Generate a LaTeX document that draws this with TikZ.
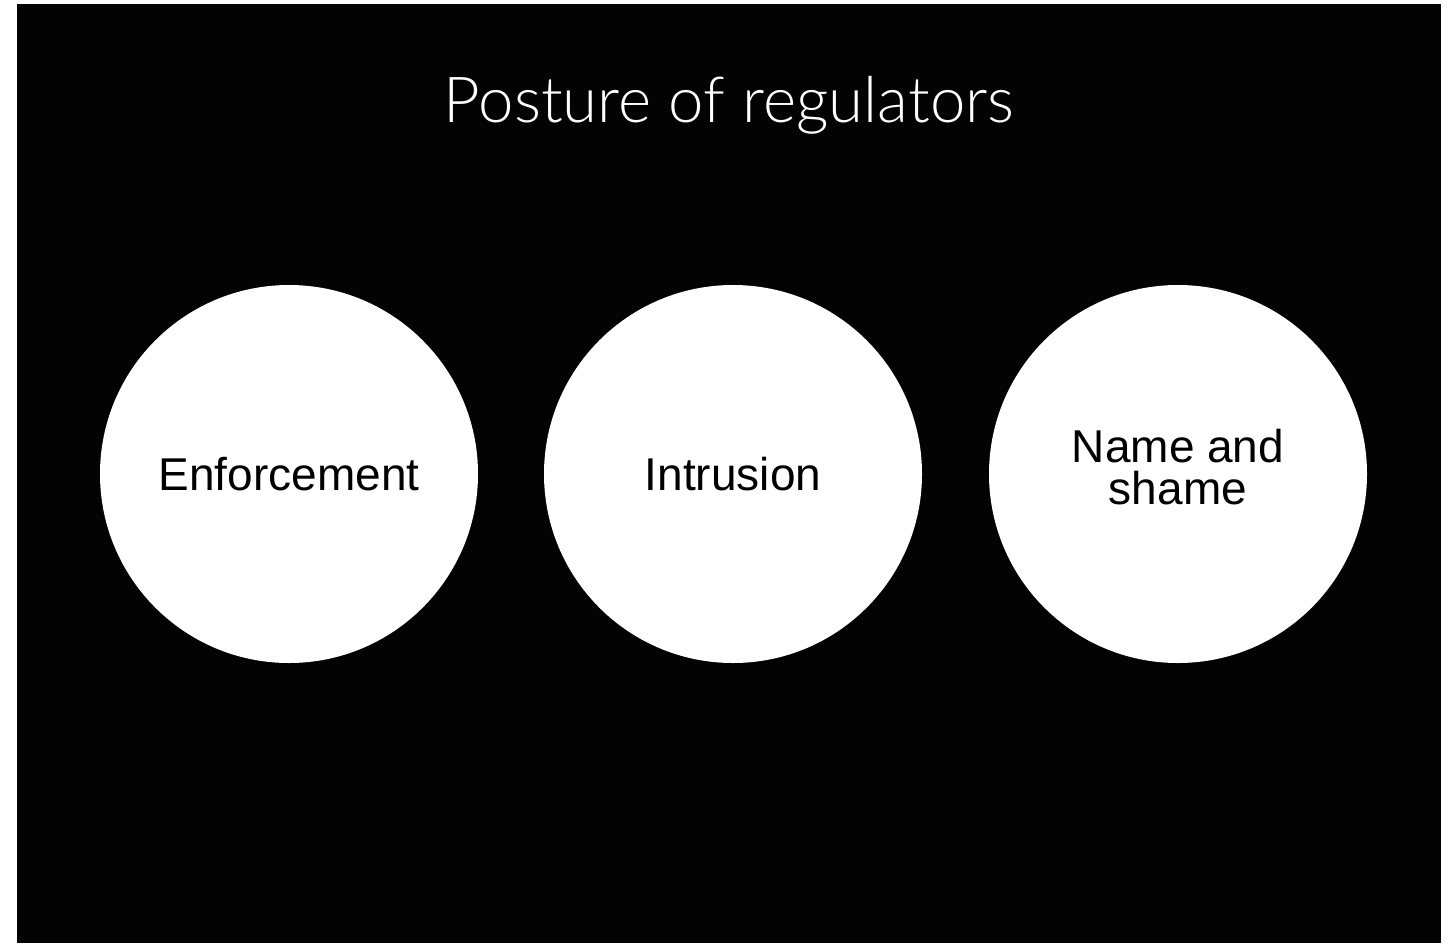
\documentclass[tikz,border=0pt]{standalone}
\usepackage{fontspec}
\setmainfont{Liberation Sans}
\newfontfamily\titlefont{Lato Light}

\begin{document}
\begin{tikzpicture}[x=1pt, y=-1pt,
        posture/.style={draw=none, circle, fill=white, minimum size=378pt, inner sep=0pt,
            align=center, font=\fontsize{46}{42}\selectfont}]
        \useasboundingbox (0,0) rectangle (1455,943);
        \fill[white] (0,0) rectangle (1455,943);
        \fill[black!99] (17,4) rectangle (1441,943);

        \node[anchor=base, text=white, font=\titlefont\fontsize{63.5}{70}\selectfont] (title) at (729,122) {Posture of regulators};

        \node[posture] (enforce) at (289,474) {Enforcement};
        \node[posture] (intrusion) at (733,474) {Intrusion};
        \node[posture, text depth=14pt] (nameshame) at (1178,474) {Name and\\shame};
    \end{tikzpicture}
\end{document}
